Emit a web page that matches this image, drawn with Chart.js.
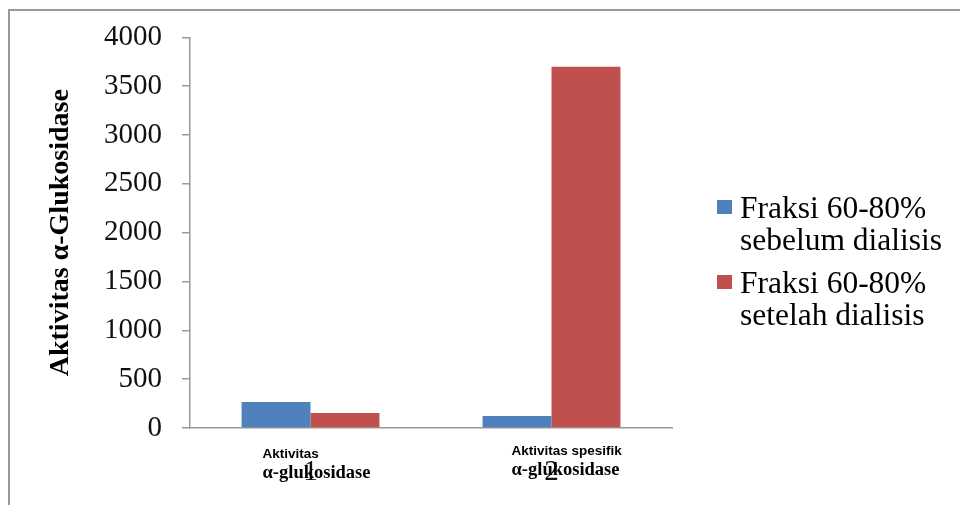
<!DOCTYPE html>
<html>
<head>
<meta charset="utf-8">
<script src="https://cdn.jsdelivr.net/npm/chart.js@4.4.1/dist/chart.umd.min.js"></script>
<style>
  html, body { margin: 0; padding: 0; background: #fff; }
  #wrap { position: relative; width: 960px; height: 505px; overflow: hidden; }
  #frame { position: absolute; left: 8px; top: 9px; right: -10px; bottom: -10px;
           border-top: 2px solid #999; border-left: 2px solid #999; }
  canvas { position: absolute; left: 0; top: 0; }
</style>
</head>
<body>
<div id="wrap">
  <div id="frame"></div>
  <canvas id="chart" width="960" height="505"></canvas>
</div>
<script>
const categories = ['1', '2'];
const seriesNames = [
  ['Fraksi 60-80%', 'sebelum dialisis'],
  ['Fraksi 60-80%', 'setelah dialisis']
];
const beforeDialysis = [266, 123];
const afterDialysis = [153, 3700];
const yMin = 0;
const yMax = 4000;
const yStep = 500;
const yTitle = 'Aktivitas α-Glukosidase';
const categoryNotes = [
  ['Aktivitas', 'α-glukosidase'],
  ['Aktivitas spesifik', 'α-glukosidase']
];

const serif = "'Liberation Serif', 'Times New Roman', serif";
const sans = "'Liberation Sans', Arial, sans-serif";

// text boxes under the categories and the legend on the right
const extras = {
  id: 'extras',
  afterDraw(chart) {
    const ctx = chart.ctx;
    const xs = chart.scales.x;
    ctx.save();
    ctx.fillStyle = '#000';
    ctx.textAlign = 'left';
    ctx.textBaseline = 'alphabetic';

    const noteShift = [[-48, 458, 478], [-40, 455, 475]];
    categoryNotes.forEach((lines, i) => {
      const [dx, y1, y2] = noteShift[i];
      const left = xs.getPixelForValue(i) + dx;
      ctx.font = 'bold 13.5px ' + sans;
      ctx.fillText(lines[0], left, y1);
      ctx.font = 'bold 18.5px ' + serif;
      ctx.fillText(lines[1], left, y2);
    });

    chart.data.datasets.forEach((ds, i) => {
      const top = 200 + i * 75;
      ctx.fillStyle = ds.backgroundColor;
      ctx.fillRect(717, top, 15, 14);
      ctx.fillStyle = '#000';
      ctx.font = '31.5px ' + serif;
      ds.label.forEach((line, j) => {
        ctx.fillText(line, 740, top + 18 + j * 32);
      });
    });
    ctx.restore();
  }
};

new Chart(document.getElementById('chart'), {
  type: 'bar',
  data: {
    labels: categories,
    datasets: [
      { label: seriesNames[0], data: beforeDialysis, backgroundColor: '#4F81BD' },
      { label: seriesNames[1], data: afterDialysis, backgroundColor: '#C0504D' }
    ]
  },
  options: {
    responsive: false,
    animation: false,
    devicePixelRatio: 1,
    layout: { padding: { left: 0, top: 36, right: 288, bottom: 0 } },
    datasets: {
      bar: { categoryPercentage: 0.572, barPercentage: 1.0, borderWidth: 0 }
    },
    plugins: {
      legend: { display: false },
      tooltip: { enabled: false }
    },
    scales: {
      x: {
        grid: { display: false },
        border: { display: true, color: '#999', width: 1.5 },
        ticks: { color: '#111', padding: 19, font: { family: serif, size: 29 } },
        afterFit(scale) { scale.height = 77; }
      },
      y: {
        min: yMin,
        max: yMax,
        grid: { display: true, drawOnChartArea: false, drawTicks: true, tickLength: 8, color: '#999', lineWidth: 1.5 },
        border: { display: true, color: '#999', width: 1.5 },
        ticks: {
          stepSize: yStep,
          color: '#111',
          padding: 20,
          font: { family: serif, size: 29 },
          callback: (v) => String(v)
        },
        title: {
          display: true,
          text: yTitle,
          color: '#000',
          padding: { top: 44, bottom: 0 },
          font: { family: serif, size: 28, weight: 'bold' }
        },
        afterFit(scale) { scale.width = 190; }
      }
    }
  },
  plugins: [extras]
});
</script>
</body>
</html>
